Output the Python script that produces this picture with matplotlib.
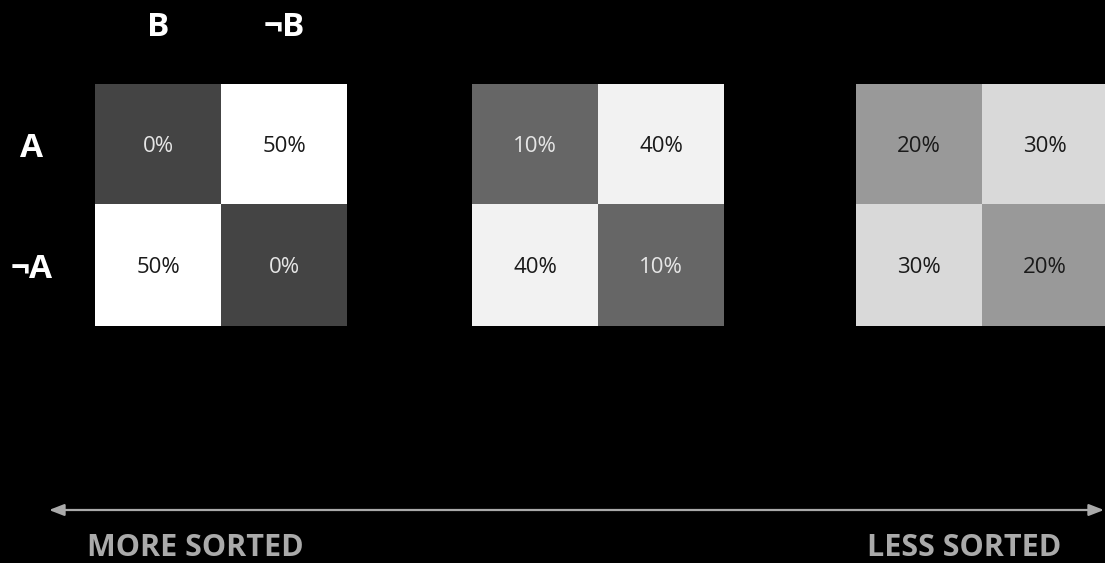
import matplotlib
matplotlib.use("Agg")
import matplotlib.pyplot as plt
import numpy as np
from matplotlib.colors import ListedColormap, BoundaryNorm

plt.rcParams['font.family'] = ['Open Sans', 'DejaVu Sans']

# datos
row_labels = ["A", "¬A"]
col_labels = ["B", "¬B"]
more_sorted = [[0, 50], [50, 0]]
middle = [[10, 40], [40, 10]]
less_sorted = [[20, 30], [30, 20]]
grids = [more_sorted, middle, less_sorted]
left_label = "MORE SORTED"
right_label = "LESS SORTED"

# cores por nivel (0,10,20,30,40,50)
cores = ["#444444", "#666666", "#999999", "#d9d9d9", "#f2f2f2", "#ffffff"]
cmap = ListedColormap(cores)
norm = BoundaryNorm([-5, 5, 15, 25, 35, 45, 55], cmap.N)

W, H = 1105, 563
fig = plt.figure(figsize=(W / 100, H / 100), dpi=100, facecolor="black")

lefts = [95, 472, 856]
for g, left in zip(grids, lefts):
    ax = fig.add_axes([left / W, (H - 326) / H, 252 / W, 242 / H])
    m = np.array(g)
    ax.imshow(m, cmap=cmap, norm=norm, aspect="auto", interpolation="nearest")
    for i in range(m.shape[0]):
        for j in range(m.shape[1]):
            v = m[i, j]
            cor_txt = "#e6e6e6" if v < 15 else "#1a1a1a"
            ax.text(j, i + 0.02, f"{v}%", ha="center", va="center", fontsize=16,
                    color=cor_txt)
    ax.set_axis_off()
    if left == lefts[0]:
        for j, lab in enumerate(col_labels):
            ax.text(j, -0.97, lab, ha="center", va="center", fontsize=24,
                    fontweight="bold", color="white")
        for i, lab in enumerate(row_labels):
            ax.text(-1.0, i + 0.03, lab, ha="center", va="center", fontsize=24,
                    fontweight="bold", color="white")

# seta embaixo
ov = fig.add_axes([0, 0, 1, 1])
ov.set_xlim(0, W)
ov.set_ylim(H, 0)
ov.set_axis_off()
ov.patch.set_alpha(0)
ov.annotate("", xy=(1104, 510), xytext=(49, 510),
            arrowprops=dict(arrowstyle="<|-|>,head_length=0.9,head_width=0.35",
                            color="#aaaaaa", lw=1.6, shrinkA=0, shrinkB=0))
ov.text(87, 548, left_label, ha="left", va="center", fontsize=22,
        fontweight="bold", color="#aaaaaa")
ov.text(1061, 548, right_label, ha="right", va="center", fontsize=22,
        fontweight="bold", color="#aaaaaa")

plt.savefig("out.png", format="png", facecolor="black")
